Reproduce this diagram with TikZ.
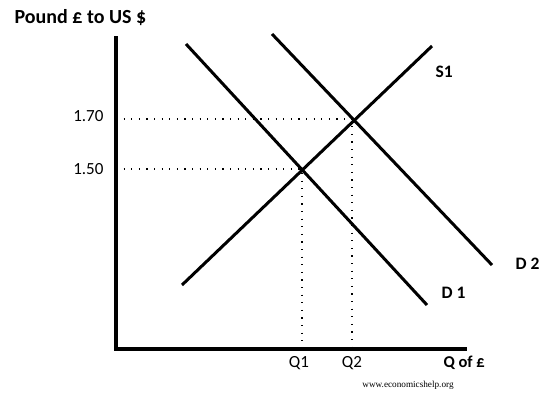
\documentclass[tikz,border=0pt]{standalone}
\usepackage{fontspec}
\setmainfont{Carlito}
\newfontfamily\webfont{Liberation Serif}

\begin{document}
\begin{tikzpicture}[x=1pt,y=-1pt,
  curve/.style={line width=3pt},
  axis/.style={line width=4pt},
  guide/.style={line width=1.2pt,dash pattern=on 1.2pt off 6.4pt},
  lbl/.style={font=\fontsize{17}{19}\selectfont},
  tag/.style={font=\fontsize{17.5}{19}\selectfont\bfseries,anchor=west}]
\useasboundingbox (0,0) rectangle (551,394);

% axes
\coordinate (O) at (116,349);
\coordinate (ytop) at (116,36);
\coordinate (xend) at (467,349);
\draw[axis] (ytop) -- (O) -- (xend);

% supply and demand
\coordinate (s1a) at (182,285); \coordinate (s1b) at (432,46);
\coordinate (d1a) at (186,44);  \coordinate (d1b) at (427,305);
\coordinate (d2a) at (272,34);  \coordinate (d2b) at (492,265);
\draw[curve] (s1a) -- (s1b);
\draw[curve] (d1a) -- (d1b);
\draw[curve] (d2a) -- (d2b);

% equilibria
\coordinate (E1) at (302,169);
\coordinate (E2) at (352,119);
\draw[guide] (E1 -| O) -- (E1) -- (E1 |- O);
\draw[guide] (E2 -| O) -- (E2) -- (E2 |- O);

% labels
\node[lbl,anchor=east] (p170) at (107,116) {1.70};
\node[lbl,anchor=east] (p150) at (107,169) {1.50};
\node[lbl] (q1) at (299,363) {Q1};
\node[lbl] (q2) at (352,363) {Q2};
\node[tag,font=\fontsize{16.5}{18}\selectfont\bfseries] (qlab) at (440,363) {Q of £};
\node[tag] (s1) at (432,72) {S1};
\node[tag] (d2) at (512,264) {D 2};
\node[tag] (d1) at (438,293) {D 1};
\node[font=\fontsize{20}{22}\selectfont\bfseries,anchor=west] (title) at (11,18) {Pound £ to US \$};
\node[font=\webfont\fontsize{9.2}{10}\selectfont] (web) at (408,385) {www.economicshelp.org};
\end{tikzpicture}
\end{document}
